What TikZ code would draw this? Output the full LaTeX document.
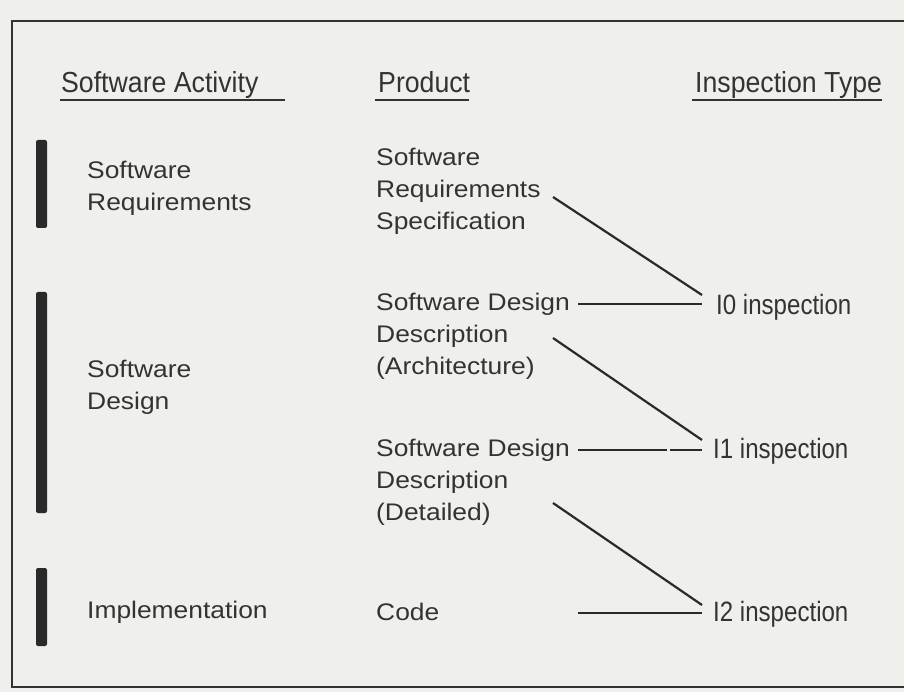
\documentclass[tikz,border=0pt]{standalone}
\usepackage{fontspec}
\setmainfont{Liberation Sans}
\newfontfamily\bodyf[FakeStretch=1.1]{Liberation Sans}
\newfontfamily\headf[FakeStretch=0.92]{Liberation Sans}
\newfontfamily\inspf[FakeStretch=0.86]{Liberation Sans}
\definecolor{bgc}{HTML}{EFEFEC}
\definecolor{inkc}{HTML}{333333}
\definecolor{linec}{HTML}{2A2A2A}
\tikzset{
  body/.style={anchor=base west, inner sep=0pt, align=left, text=inkc, font=\bodyf\fontsize{24}{32}\selectfont},
  head/.style={anchor=base west, inner sep=0pt, text=inkc, font=\headf\fontsize{29}{32}\selectfont},
  insp/.style={anchor=base west, inner sep=0pt, text=inkc, font=\inspf\fontsize{28}{32}\selectfont},
  conn/.style={draw=linec, line width=2.2pt},
  uline/.style={draw=inkc, line width=2.4pt},
  actbar/.style={fill=linec, rounded corners=2pt},
  frame/.style={draw=inkc, line width=2.5pt}
}
\begin{document}
\begin{tikzpicture}[x=1pt, y=-1pt]
\useasboundingbox (0,0) rectangle (904,692);
\fill[bgc] (0,0) rectangle (904,692);
% frame
\draw[frame] (904,21) -- (12,21) -- (12,687) -- (904,687);
% headers
\node[head] (h1) at (61,93) {Software Activity};
\node[head] (h2) at (378,93) {Product};
\node[head] (h3) at (695,93) {Inspection Type};
\draw[uline] ([shift={(-1,7)}]h1.base west) -- ([shift={(26,7)}]h1.base east);
\draw[uline] ([shift={(-3,7)}]h2.base west) -- ([shift={(-1,7)}]h2.base east);
\draw[uline] ([shift={(-3,7)}]h3.base west) -- ([shift={(0,7)}]h3.base east);
% activity bars
\fill[actbar] (36,140) rectangle (47,228);
\fill[actbar] (36,292) rectangle (47,513);
\fill[actbar] (36,568) rectangle (47,646);
% activities (base = last line)
\node[body] (a1) at (87,211) {Software\\Requirements};
\node[body] (a2) at (87,409) {Software\\Design};
\node[body] (a3) at (87,618) {Implementation};
% products (base = last line)
\node[body] (p1) at (376,230) {Software\\Requirements\\Specification};
\node[body] (p2) at (376,374) {Software Design\\Description\\(Architecture)};
\node[body] (p3) at (376,520) {Software Design\\Description\\(Detailed)};
\node[body] (p4) at (376,620) {Code};
% inspections
\node[insp] (i0) at (716,315) {I0 inspection};
\node[insp] (i1) at (713,458) {I1 inspection};
\node[insp] (i2) at (713,621) {I2 inspection};
% connectors
\draw[conn] ([shift={(177,-33)}]p1.base west) -- ([shift={(-14,-20)}]i0.base west);
\draw[conn] ([shift={(202,-70)}]p2.base west) -- ([shift={(-14,-11)}]i0.base west);
\draw[conn] ([shift={(177,-36)}]p2.base west) -- ([shift={(-11,-18)}]i1.base west);
\draw[conn, dash pattern=on 89pt off 3pt on 60pt] ([shift={(202,-70)}]p3.base west) -- ([shift={(-11,-8)}]i1.base west);
\draw[conn] ([shift={(177,-17)}]p3.base west) -- ([shift={(-11,-16)}]i2.base west);
\draw[conn] ([shift={(202,-7)}]p4.base west) -- ([shift={(-11,-8)}]i2.base west);
\end{tikzpicture}
\end{document}
